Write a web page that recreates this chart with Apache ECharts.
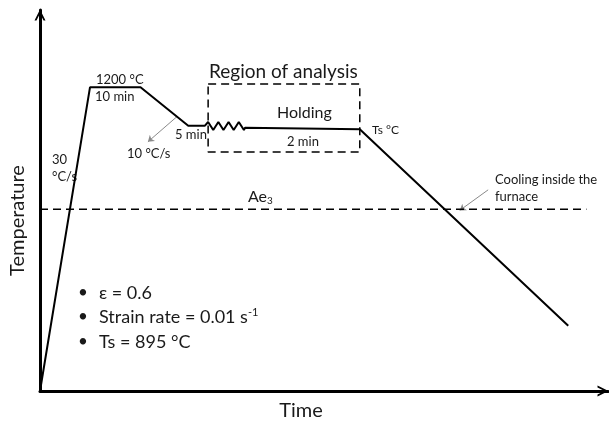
<!DOCTYPE html>
<html>
<head>
<meta charset="utf-8">
<script src="https://cdn.jsdelivr.net/npm/echarts@6/dist/echarts.min.js"></script>
<style>html,body{margin:0;padding:0;background:#fff}#c{width:609px;height:423px}</style>
</head>
<body>
<div id="c"></div>
<script>
// Schematic thermal cycle (arbitrary units: time 0-100, temperature 0-100)
const cycleTime = [0, 8.8, 17.7, 26.1, 29.0, 29.6, 30.5, 31.4, 32.3, 33.2, 34.1, 35.0, 35.9, 36.1, 56.3, 93.0];
const cycleTemp = [0, 79.7, 79.7, 69.6, 69.6, 70.6, 68.5, 70.6, 68.5, 70.6, 68.5, 70.6, 68.5, 69.1, 68.7, 17.1];
const ae3Time = [0, 96.2];
const ae3Temp = [47.7, 47.7];
const boxTime = [29.6, 56.3, 56.3, 29.6, 29.6];
const boxTemp = [80.6, 80.6, 62.7, 62.7, 80.6];
const arrowCoolingTime = [78.9, 73.9];
const arrowCoolingTemp = [52.8, 47.4];
const arrowRateTime = [24.1, 19.0];
const arrowRateTemp = [72.0, 65.4];
const xName = 'Time';
const yName = 'Temperature';

const zip = (a, b) => a.map((v, i) => [v, b[i]]);
const chevron = 'path://M0,10 L5,0 L10,10 L8.2,10 L5,3.6 L1.8,10 Z';
const FONT = 'Lato, "Open Sans", sans-serif';

const chart = echarts.init(document.getElementById('c'));
function txt(text, x, y, size, extra) {
  return Object.assign({
    type: 'text', x: x, y: y,
    style: { text: text, font: size + 'px ' + FONT, fill: '#1a1a1a', textVerticalAlign: 'middle' }
  }, extra || {});
}
chart.setOption({
  animation: false,
  backgroundColor: '#fff',
  grid: { left: 40, right: 1, top: 10, bottom: 32, containLabel: false, outerBoundsMode: 'none' },
  xAxis: {
    type: 'value', min: 0, max: 100,
    name: xName, nameLocation: 'middle', nameGap: 10,
    nameTextStyle: { fontFamily: FONT, fontSize: 20, color: '#1a1a1a', padding: [0, 46, 0, 0] },
    axisLine: { show: true, onZero: false, symbol: ['none', chevron], symbolSize: [11, 11], symbolOffset: [0, -5],
      lineStyle: { color: '#000', width: 3 } },
    axisTick: { show: false }, axisLabel: { show: false }, splitLine: { show: false }
  },
  yAxis: {
    type: 'value', min: 0, max: 100,
    name: yName, nameLocation: 'middle', nameGap: 12, nameRotate: 90,
    nameTextStyle: { fontFamily: FONT, fontSize: 20, color: '#1a1a1a', padding: [0, 40, 0, 0] },
    axisLine: { show: true, onZero: false, symbol: ['none', chevron], symbolSize: [11, 11], symbolOffset: [0, -5],
      lineStyle: { color: '#000', width: 3 } },
    axisTick: { show: false }, axisLabel: { show: false }, splitLine: { show: false }
  },
  series: [
    { type: 'line', data: zip(cycleTime, cycleTemp), showSymbol: false, symbol: 'none',
      lineStyle: { color: '#000', width: 2 }, z: 5 },
    { type: 'line', data: zip(ae3Time, ae3Temp), showSymbol: false, symbol: 'none',
      lineStyle: { color: '#000', width: 1.5, type: [8, 5] } },
    { type: 'line', data: zip(boxTime, boxTemp), showSymbol: false, symbol: 'none',
      lineStyle: { color: '#000', width: 1.5, type: [8, 5] } },
    { type: 'lines', coordinateSystem: 'cartesian2d', symbol: ['none', 'arrow'], symbolSize: 6,
      lineStyle: { color: '#8a8a8a', width: 1, opacity: 1 },
      data: [
        { coords: zip(arrowCoolingTime, arrowCoolingTemp) },
        { coords: zip(arrowRateTime, arrowRateTemp) }
      ] }
  ],
  graphic: [
    txt('Region of analysis', 209, 72, 19),
    txt('1200 °C', 96, 80, 13),
    txt('10 min', 95, 97, 13),
    txt('5 min', 175, 135, 13),
    txt('10 °C/s', 127, 154, 13),
    txt('30', 52, 160, 13),
    txt('°C/s', 52, 177, 13),
    txt('Holding', 277, 113, 16),
    txt('2 min', 287, 142, 13),
    txt('Ts °C', 372, 130, 12),
    txt('Cooling inside the', 495, 180, 13),
    txt('furnace', 495, 197, 13),
    { type: 'text', x: 248, y: 197, style: {
        text: 'Ae{s|3}', font: '16px ' + FONT, fill: '#1a1a1a', textVerticalAlign: 'middle',
        rich: { s: { fontSize: 10, fontFamily: FONT, padding: [7, 0, 0, 0] } } } },
    txt('•', 78, 293, 17), txt('ε = 0.6', 99, 293, 18),
    txt('•', 78, 317, 17),
    { type: 'text', x: 99, y: 317, style: {
        text: 'Strain rate = 0.01 s{p|-1}', font: '18px ' + FONT, fill: '#1a1a1a', textVerticalAlign: 'middle',
        rich: { p: { fontSize: 11, fontFamily: FONT, padding: [0, 0, 9, 0] } } } },
    txt('•', 78, 342, 17), txt('Ts = 895 °C', 99, 342, 18)
  ]
});
</script>
</body>
</html>
